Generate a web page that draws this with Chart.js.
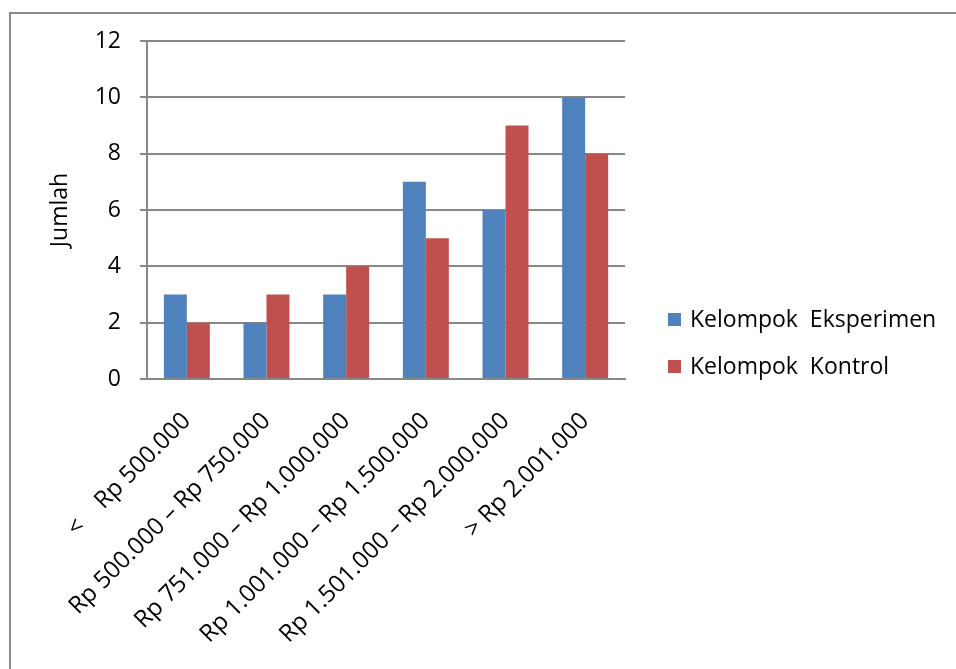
<!DOCTYPE html>
<html>
<head>
<meta charset="utf-8">
<script src="https://cdn.jsdelivr.net/npm/chart.js@4.4.0/dist/chart.umd.min.js"></script>
<style>
  body { margin: 0; background: #fff; }
  #Chart { display: block; }
</style>
</head>
<body>
<canvas id="Chart" width="956" height="669"></canvas>
<script>
const categories = [
    "<    Rp 500.000",
    "Rp 500.000 – Rp 750.000",
    "Rp 751.000 – Rp 1.000.000",
    "Rp 1.001.000 – Rp 1.500.000",
    "Rp 1.501.000 – Rp 2.000.000",
    "> Rp 2.001.000"
];
const eksperimen = [3, 2, 3, 7, 6, 10];
const kontrol = [2, 3, 4, 5, 9, 8];
const yTicks = [0, 2, 4, 6, 8, 10, 12];

const gridGray = "#888888";
const fontFamily = "'Open Sans', sans-serif";

Chart.defaults.font.family = fontFamily;
Chart.defaults.font.size = 23;
Chart.defaults.color = "#000";

// thin gray frame along the top and left edge
const frame = {
    id: "frame",
    beforeDraw(chart) {
        const c = chart.ctx;
        c.save();
        c.strokeStyle = "#8c8c8c";
        c.lineWidth = 2;
        c.beginPath();
        c.moveTo(10, chart.height);
        c.lineTo(10, 13);
        c.lineTo(chart.width, 13);
        c.stroke();
        c.restore();
    }
};

// legend to the right of the plot, one row per dataset
const sideLegend = {
    id: "sideLegend",
    afterDraw(chart) {
        const c = chart.ctx;
        const x = chart.chartArea.right + 43;
        let y = 320;
        c.save();
        c.font = "23px " + fontFamily;
        c.textBaseline = "middle";
        chart.data.datasets.forEach(ds => {
            c.fillStyle = ds.backgroundColor;
            c.fillRect(x, y - 7, 13, 13);
            c.fillStyle = "#000";
            c.fillText(ds.label, x + 22, y);
            y += 47;
        });
        c.restore();
    }
};

const ctx = document.getElementById("Chart");
const data = {
    labels: categories,
    datasets: [{
        label: "Kelompok  Eksperimen",
        data: eksperimen,
        backgroundColor: "#4F81BD",
    }, {
        label: "Kelompok  Kontrol",
        data: kontrol,
        backgroundColor: "#C0504D",
    }]
};

const config = {
    type: "bar",
    data: data,
    options: {
        responsive: false,
        animation: false,
        layout: {
            padding: { top: 41, right: 331, bottom: 0, left: 0 }
        },
        datasets: {
            bar: {
                categoryPercentage: 0.577,
                barPercentage: 1,
            }
        },
        plugins: {
            legend: { display: false },
            tooltip: { enabled: false },
        },
        scales: {
            x: {
                grid: { display: false },
                border: { color: gridGray, width: 2 },
                ticks: {
                    minRotation: 45,
                    maxRotation: 45,
                    autoSkip: false,
                    padding: 20,
                    font: { size: 24 },
                },
                afterFit: s => { s.height = 290; },
            },
            y: {
                min: 0,
                max: 12,
                afterBuildTicks: s => { s.ticks = yTicks.map(v => ({ value: v })); },
                grid: { color: gridGray, lineWidth: 2, tickLength: 7 },
                border: { color: gridGray, width: 2 },
                ticks: { padding: 19 },
                title: {
                    display: true,
                    text: "Jumlah",
                    padding: { top: 47, bottom: 0 },
                },
                afterFit: s => { s.width = 147; },
            },
        },
    },
    plugins: [frame, sideLegend],
};

new Chart(ctx, config);
</script>
</body>
</html>
